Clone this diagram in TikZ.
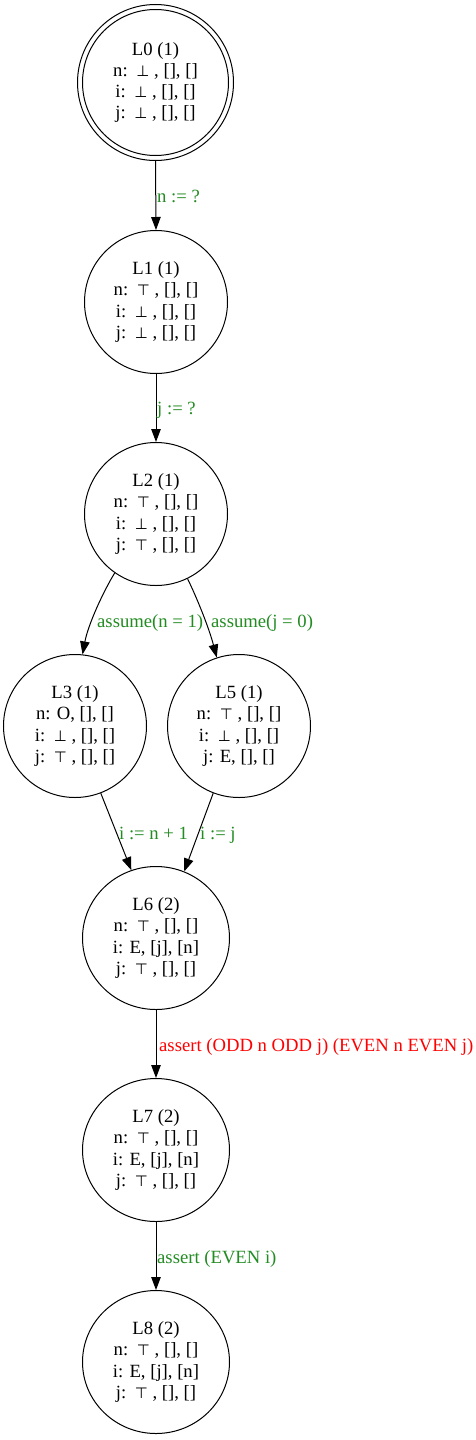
\documentclass[tikz,border=0pt]{standalone}
\usepackage{fontspec}
\setmainfont{Liberation Serif}
\newfontfamily\symf{DejaVu Sans}
\usetikzlibrary{arrows.meta,shapes.geometric}
\definecolor{fgreen}{HTML}{228B22}
\newcommand{\bt}{\hspace{2.5pt}{\symf\fontsize{15}{15}\selectfont ⊥}}
\newcommand{\tp}{\hspace{2.5pt}{\symf\fontsize{15}{15}\selectfont ⊤}}
\tikzset{
  st/.style={draw, ellipse, line width=1pt, inner sep=0pt, align=center,
    font=\fontsize{18.67}{21.3}\selectfont},
  sm/.style={st, minimum width=143pt, minimum height=143pt},
  bg/.style={st, minimum width=147pt, minimum height=143pt},
  edge/.style={line width=1pt, -{Triangle[length=13pt,width=9.5pt]}},
  lab/.style={anchor=base west, inner sep=0pt, text=fgreen, font=\fontsize{18.67}{21.3}\selectfont},
}
\begin{document}
\begin{tikzpicture}[x=1pt,y=-1pt]
\path[use as bounding box] (0,0) rectangle (476,1440);
\node[st, minimum width=156pt, minimum height=156pt] (L0) at (155.5,82.5) {L0 (1)\\n: \bt\ , [], []\\i: \bt\ , [], []\\j: \bt\ , [], []};
\draw[line width=1pt] (L0.center) circle[radius=73];
\node[sm] (L1) at (156,302) {L1 (1)\\n: \tp\ , [], []\\i: \bt\ , [], []\\j: \bt\ , [], []};
\node[sm] (L2) at (156,514) {L2 (1)\\n: \tp\ , [], []\\i: \bt\ , [], []\\j: \tp\ , [], []};
\node[sm] (L3) at (75,726) {L3 (1)\\n: O, [], []\\i: \bt\ , [], []\\j: \tp\ , [], []};
\node[sm] (L5) at (239,726) {L5 (1)\\n: \tp\ , [], []\\i: \bt\ , [], []\\j: E, [], []};
\node[bg] (L6) at (156,938) {L6 (2)\\n: \tp\ , [], []\\i: E, [j], [n]\\j: \tp\ , [], []};
\node[bg] (L7) at (156,1150) {L7 (2)\\n: \tp\ , [], []\\i: E, [j], [n]\\j: \tp\ , [], []};
\node[bg] (L8) at (156,1362) {L8 (2)\\n: \tp\ , [], []\\i: E, [j], [n]\\j: \tp\ , [], []};

\draw[edge] (L0.south) -- (L1.north);
\draw[edge] (L1.south) -- (L2.north);
\draw[edge] (L2.235) .. controls (103,592) and (88,625) .. (L3.84);
\draw[edge] (L2.296.6) .. controls (197,598) and (209,628) .. (L5.108);
\draw[edge] (L3.291.7) -- (L6.110.9);
\draw[edge] (L5.249.5) -- (L6.67);
\draw[edge] (L6.south) -- (L7.north);
\draw[edge] (L7.south) -- (L8.north);

\node[lab] (e01) at (157,202) {n := ?};
\node[lab] (e12) at (157,414) {j := ?};
\node[lab] (e23) at (97,627) {assume(n = 1)};
\node[lab] (e25) at (211,627) {assume(j = 0)};
\node[lab] (e36) at (119,839) {i := n + 1};
\node[lab] (e56) at (200,839) {i := j};
\node[lab, text=red] (e67) at (159,1051) {assert (ODD n ODD j) (EVEN n EVEN j)};
\node[lab] (e78) at (157,1263) {assert (EVEN i)};
\end{tikzpicture}
\end{document}
